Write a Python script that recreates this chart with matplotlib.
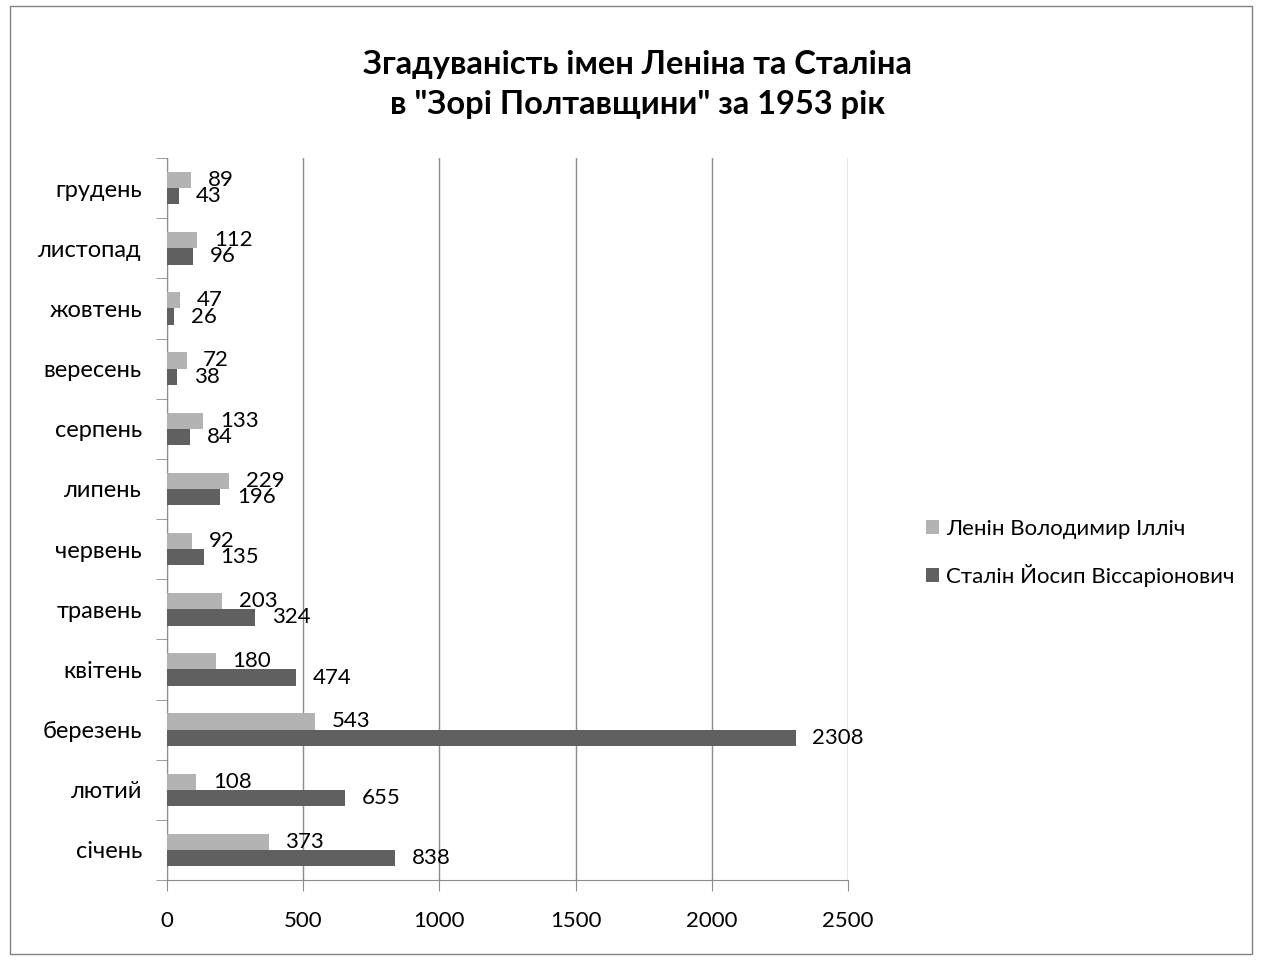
import matplotlib
matplotlib.use('Agg')
from matplotlib import pyplot as plt
from matplotlib.patches import Rectangle
import numpy as np

plt.rcParams['font.family'] = ['Lato', 'DejaVu Sans']

# дані
months = ['січень', 'лютий', 'березень', 'квітень', 'травень', 'червень',
          'липень', 'серпень', 'вересень', 'жовтень', 'листопад', 'грудень']
lenin = [373, 108, 543, 180, 203, 92, 229, 133, 72, 47, 112, 89]
stalin = [838, 655, 2308, 474, 324, 135, 196, 84, 38, 26, 96, 43]
series_names = ['Ленін Володимир Ілліч', 'Сталін Йосип Віссаріонович']
x_ticks = [0, 500, 1000, 1500, 2000, 2500]

light = '#b3b3b3'
dark = '#606060'
grid = '#8c8c8c'

fig = plt.figure(figsize=(12.62, 9.6), dpi=100)
ax = fig.add_axes([0.1323, 0.0833, 0.5397, 0.7521])

y = np.arange(len(months))
h = 0.27
b1 = ax.barh(y + h / 2, lenin, height=h, color=light, label=series_names[0], zorder=3)
b2 = ax.barh(y - h / 2, stalin, height=h, color=dark, label=series_names[1], zorder=3)

ax.bar_label(b1, padding=12, fontsize=16, zorder=4)
ax.bar_label(b2, padding=12, fontsize=16, zorder=4)

ax.set_xlim(0, 2500)
ax.set_ylim(-0.5, len(months) - 0.5)
ax.set_xticks(x_ticks)
ax.set_yticks(y)
ax.set_yticklabels(months)
ax.set_yticks(np.arange(-0.5, len(months), 1), minor=True)
ax.tick_params(axis='y', which='major', length=0, labelsize=17, pad=18)
ax.tick_params(axis='y', which='minor', length=8, color=grid, direction='out')
ax.tick_params(axis='x', length=8, color=grid, labelsize=16, pad=14)
ax.xaxis.grid(True, color=grid, linewidth=1, zorder=0)
for s in ['top', 'right']:
    ax.spines[s].set_visible(False)
for s in ['left', 'bottom']:
    ax.spines[s].set_color(grid)

fig.suptitle('Згадуваність імен Леніна та Сталіна\nв "Зорі Полтавщини" за 1953 рік',
             x=0.505, y=0.948, fontsize=23.5, fontweight='bold', linespacing=1.45)

leg = fig.legend(handles=[b1, b2], loc='center left', bbox_to_anchor=(0.718, 0.424),
                 frameon=False, fontsize=16, handlelength=0.6, handleheight=0.6,
                 handletextpad=0.3, labelspacing=1.1)

fig.patches.append(Rectangle((0.008, 0.006), 0.984, 0.988, transform=fig.transFigure,
                             fill=False, edgecolor='#808080', linewidth=1))

plt.savefig('out.png', dpi=100)
